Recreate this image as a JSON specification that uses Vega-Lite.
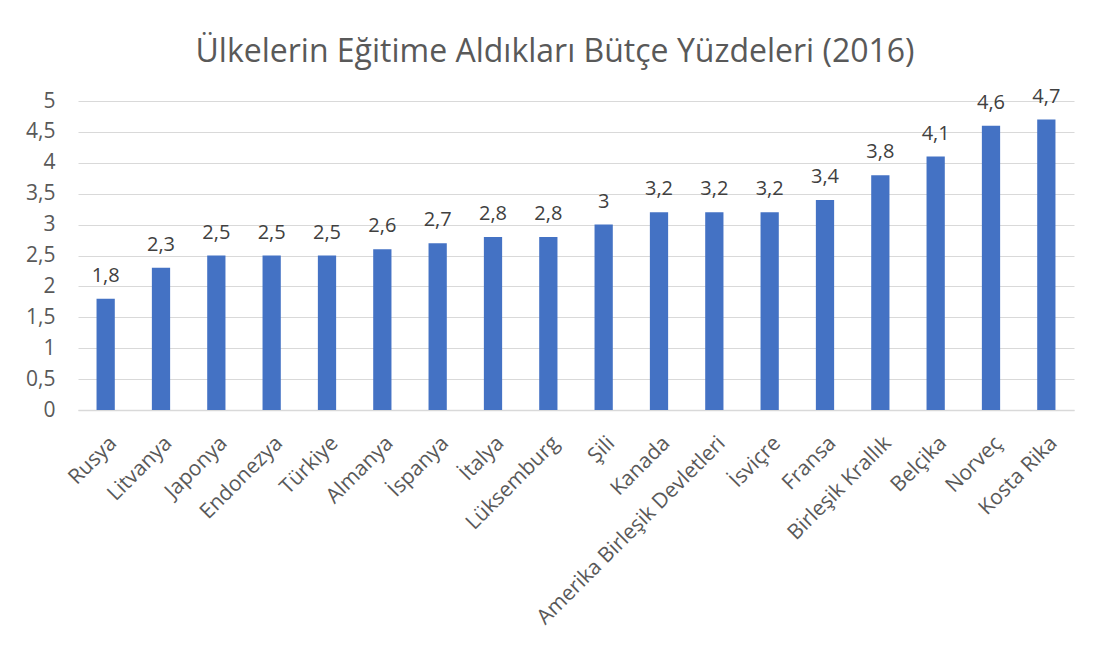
{
  "$schema": "https://vega.github.io/schema/vega-lite/v6.json",
  "width": 996,
  "height": 309,
  "autosize": {"type": "none"},
  "padding": {"left": 78, "top": 101, "right": 35, "bottom": 241},
  "background": "white",
  "title": {
    "text": "Ülkelerin Eğitime Aldıkları Bütçe Yüzdeleri (2016)",
    "font": "Open Sans",
    "fontSize": 32,
    "fontWeight": "normal",
    "color": "#595959",
    "anchor": "middle",
    "dx": -21,
    "offset": 18
  },
  "config": {
    "locale": {"number": {"decimal": ",", "thousands": ".", "grouping": [3], "currency": ["", " €"]}},
    "view": {"stroke": null},
    "font": "Open Sans"
  },
  "data": {
    "values": [
      {"ulke": "Rusya", "deger": 1.8},
      {"ulke": "Litvanya", "deger": 2.3},
      {"ulke": "Japonya", "deger": 2.5},
      {"ulke": "Endonezya", "deger": 2.5},
      {"ulke": "Türkiye", "deger": 2.5},
      {"ulke": "Almanya", "deger": 2.6},
      {"ulke": "İspanya", "deger": 2.7},
      {"ulke": "İtalya", "deger": 2.8},
      {"ulke": "Lüksemburg", "deger": 2.8},
      {"ulke": "Şili", "deger": 3.0},
      {"ulke": "Kanada", "deger": 3.2},
      {"ulke": "Amerika Birleşik Devletleri", "deger": 3.2},
      {"ulke": "İsviçre", "deger": 3.2},
      {"ulke": "Fransa", "deger": 3.4},
      {"ulke": "Birleşik Krallık", "deger": 3.8},
      {"ulke": "Belçika", "deger": 4.1},
      {"ulke": "Norveç", "deger": 4.6},
      {"ulke": "Kosta Rika", "deger": 4.7}
    ]
  },
  "encoding": {
    "x": {
      "field": "ulke",
      "type": "nominal",
      "sort": null,
      "scale": {"paddingInner": 0.67, "paddingOuter": 0.335},
      "axis": {
        "title": null,
        "labelAngle": -45,
        "labelAlign": "right",
        "labelBaseline": "top",
        "labelFont": "Open Sans",
        "labelFontSize": 21,
        "labelColor": "#595959",
        "labelPadding": 22,
        "labelOffset": 0,
        "ticks": false,
        "domainColor": "#d9d9d9",
        "domainWidth": 1.5,
        "labelLimit": 400
      }
    },
    "y": {
      "field": "deger",
      "type": "quantitative",
      "scale": {"domain": [0, 5], "nice": false},
      "axis": {
        "title": null,
        "values": [0, 0.5, 1, 1.5, 2, 2.5, 3, 3.5, 4, 4.5, 5],
        "format": ".1~f",
        "labelFont": "Open Sans",
        "labelFontSize": 21,
        "labelColor": "#595959",
        "labelPadding": 23,
        "ticks": false,
        "domain": false,
        "gridColor": "#d9d9d9",
        "gridWidth": 1.2
      }
    }
  },
  "layer": [
    {"mark": {"type": "bar", "color": "#4472C4"}},
    {
      "mark": {"type": "text", "font": "Open Sans", "fontSize": 20, "color": "#404040", "baseline": "alphabetic", "dy": -17},
      "encoding": {"text": {"field": "deger", "type": "quantitative", "format": ".1~f"}}
    }
  ]
}
